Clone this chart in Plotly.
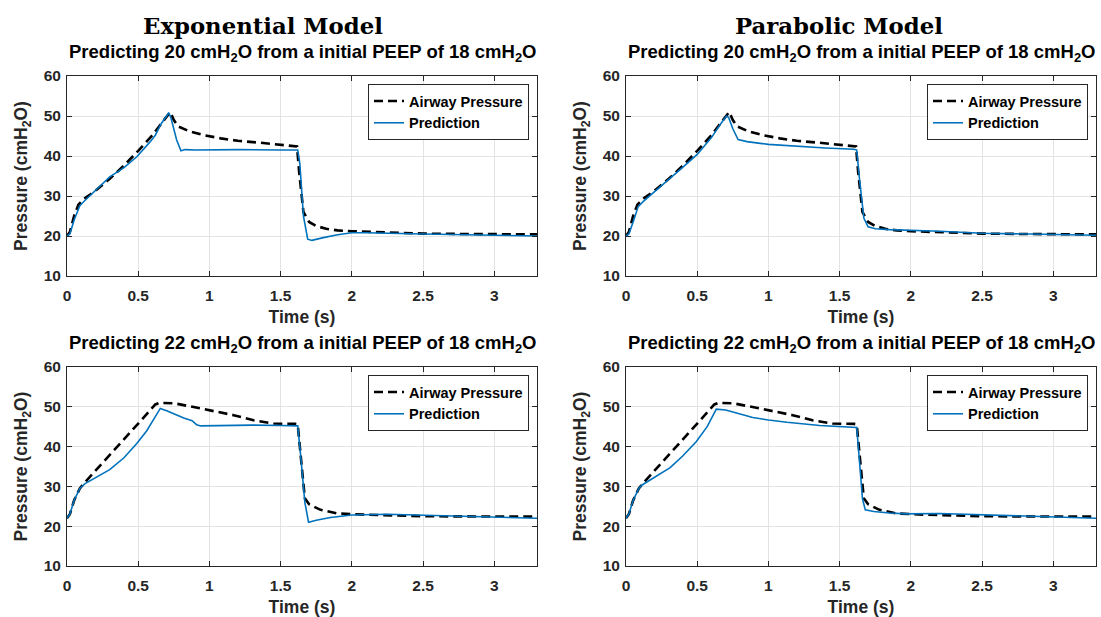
import plotly.graph_objects as go

# ---- Time axis / pressure values (cmH2O) ----
# Measured airway pressure, target 20 cmH2O (top row)
t_ap20 = [0, 0.02, 0.05, 0.08, 0.12, 0.2, 0.3, 0.4, 0.5, 0.6, 0.66, 0.7, 0.725, 0.75, 0.78,
          0.85, 0.95, 1.08, 1.2, 1.36, 1.5, 1.6, 1.615, 1.63, 1.66, 1.7, 1.75, 1.82, 1.9, 2.0,
          2.2, 2.5, 2.8, 3.3]
p_ap20 = [20, 21, 25, 27.8, 29.3, 31.3, 34.3, 37.6, 41.3, 45.2, 48.0, 49.8, 51.0, 49.0, 47.4,
          46.3, 45.3, 44.4, 43.8, 43.3, 42.9, 42.6, 42.4, 36, 26, 23.5, 22.5, 21.8, 21.4, 21.2,
          20.9, 20.6, 20.5, 20.4]

# Exponential model prediction, target 20
t_exp20 = [0, 0.02, 0.05, 0.09, 0.12, 0.2, 0.3, 0.4, 0.49, 0.58, 0.62, 0.66, 0.7, 0.715, 0.73,
           0.77, 0.8, 0.83, 0.9, 1.2, 1.5, 1.62, 1.635, 1.66, 1.69, 1.72, 1.8, 1.9, 2.0, 2.1,
           2.5, 3.0, 3.3]
p_exp20 = [20, 20.5, 24, 27.6, 28.7, 31.3, 34.8, 37.1, 39.8, 43.4, 45.2, 48.0, 50.2, 50.8, 49.5,
           44, 41.3, 41.6, 41.5, 41.6, 41.5, 41.5, 38, 25, 19.2, 18.9, 19.6, 20.3, 20.8, 20.8,
           20.5, 20.1, 20.0]

# Parabolic model prediction, target 20
t_par20 = [0, 0.02, 0.05, 0.085, 0.12, 0.2, 0.3, 0.4, 0.5, 0.6, 0.66, 0.705, 0.72, 0.75, 0.787,
           0.85, 1.0, 1.2, 1.4, 1.6, 1.62, 1.64, 1.67, 1.7, 1.75, 1.85, 2.0, 2.2, 2.5, 2.8, 3.3]
p_par20 = [20, 20.5, 23.5, 27.3, 28.6, 31.0, 34.2, 37.2, 40.4, 44.6, 47.8, 50.0, 49.7, 46.8, 44.1,
           43.6, 42.9, 42.4, 42.0, 41.7, 41.5, 34, 24.5, 22.3, 21.8, 21.6, 21.5, 21.2, 20.7,
           20.5, 20.2]

# Measured airway pressure, target 22 cmH2O (bottom row)
t_ap22 = [0, 0.02, 0.05, 0.09, 0.12, 0.2, 0.3, 0.4, 0.5, 0.58, 0.62, 0.65, 0.75, 0.88, 1.0,
          1.17, 1.31, 1.45, 1.6, 1.62, 1.64, 1.67, 1.7, 1.78, 1.9, 2.1, 2.5, 3.0, 3.3]
p_ap22 = [22, 23, 26.5, 29.5, 30.8, 33.9, 37.9, 41.8, 45.8, 49.0, 50.6, 51.0, 50.9, 50.0, 49.2,
          47.9, 46.6, 45.8, 45.7, 45.6, 38, 27, 25.5, 24.1, 23.2, 22.9, 22.5, 22.4, 22.4]

# Exponential model prediction, target 22
t_exp22 = [0, 0.02, 0.05, 0.09, 0.127, 0.2, 0.3, 0.4, 0.49, 0.56, 0.62, 0.655, 0.7, 0.75, 0.82,
           0.878, 0.91, 0.94, 1.1, 1.3, 1.5, 1.62, 1.64, 1.67, 1.696, 1.75, 1.85, 2.0, 2.25,
           2.6, 3.0, 3.3]
p_exp22 = [22, 23, 26.5, 29.5, 30.7, 32.1, 34.2, 37.2, 40.8, 44.0, 47.5, 49.6, 49.0, 48.2, 47.2,
           46.5, 45.5, 45.2, 45.3, 45.4, 45.3, 45.2, 38, 26, 21.0, 21.5, 22.2, 22.8, 23.0,
           22.7, 22.3, 22.0]

# Parabolic model prediction, target 22
t_par22 = [0, 0.02, 0.05, 0.09, 0.11, 0.2, 0.31, 0.4, 0.494, 0.57, 0.634, 0.7, 0.8, 0.89, 1.0,
           1.13, 1.36, 1.62, 1.64, 1.66, 1.68, 1.74, 1.85, 1.97, 2.2, 2.56, 3.0, 3.3]
p_par22 = [22, 23, 26.5, 29.5, 30.3, 32.3, 34.7, 37.7, 41.3, 45.0, 49.4, 49.2, 48.3, 47.3, 46.7,
           46.1, 45.3, 44.8, 36, 27, 24.1, 23.7, 23.3, 23.1, 23.2, 22.8, 22.4, 22.0]

x_ticks = [0, 0.5, 1, 1.5, 2, 2.5, 3]
y_ticks = [10, 20, 30, 40, 50, 60]

panel_titles = [
    "Predicting 20 cmH<sub>2</sub>O from a initial PEEP of 18 cmH<sub>2</sub>O",
    "Predicting 20 cmH<sub>2</sub>O from a initial PEEP of 18 cmH<sub>2</sub>O",
    "Predicting 22 cmH<sub>2</sub>O from a initial PEEP of 18 cmH<sub>2</sub>O",
    "Predicting 22 cmH<sub>2</sub>O from a initial PEEP of 18 cmH<sub>2</sub>O",
]
model_titles = ["Exponential Model", "Parabolic Model"]

W, H = 1101, 617
BLUE = "#0072BD"
AXC = "#262626"
SANS = "Liberation Sans"

# panel boxes in pixels: (left, right, top, bottom)
boxes = [(67, 537, 76, 276), (626, 1096, 76, 276),
         (67, 537, 367, 566), (626, 1096, 367, 566)]

panels = [
    (t_ap20, p_ap20, t_exp20, p_exp20),
    (t_ap20, p_ap20, t_par20, p_par20),
    (t_ap22, p_ap22, t_exp22, p_exp22),
    (t_ap22, p_ap22, t_par22, p_par22),
]

fig = go.Figure()
layout = dict(
    width=W, height=H, margin=dict(l=0, r=0, t=0, b=0, autoexpand=False),
    paper_bgcolor="white", plot_bgcolor="white",
    font=dict(family=SANS, size=15, color=AXC, weight="bold"),
    annotations=[],
)

for i, ((ta, pa, tp, pp), (l, r, t, b)) in enumerate(zip(panels, boxes)):
    k = "" if i == 0 else str(i + 1)
    xa, ya = "x" + k, "y" + k
    lg = "legend" + k
    fig.add_trace(go.Scatter(x=ta, y=pa, mode="lines", name="Airway Pressure",
                             line=dict(color="black", width=2.6, dash="9px,5px"),
                             xaxis=xa, yaxis=ya, legend=lg))
    fig.add_trace(go.Scatter(x=tp, y=pp, mode="lines", name="Prediction",
                             line=dict(color=BLUE, width=1.6),
                             xaxis=xa, yaxis=ya, legend=lg))
    axis_common = dict(showline=True, mirror="ticks", linecolor=AXC, linewidth=1,
                       ticks="inside", ticklen=5, tickcolor=AXC, automargin=False,
                       showgrid=True, gridcolor="#e3e3e3", gridwidth=1,
                       zeroline=False, tickfont=dict(size=15.5, color=AXC, weight="bold"))
    layout["xaxis" + k] = dict(axis_common, domain=[l / W, r / W], range=[0, 3.3],
                               tickvals=x_ticks, anchor=ya, ticklabelstandoff=5,
                               title=dict(text="Time (s)", standoff=8,
                                          font=dict(size=17.5, color=AXC, weight="bold")))
    layout["yaxis" + k] = dict(axis_common, domain=[1 - b / H, 1 - t / H], range=[10, 60],
                               tickvals=y_ticks, anchor=xa, ticklabelstandoff=2,
                               title=dict(text="Pressure (cmH<sub>2</sub>O)", standoff=11,
                                          font=dict(size=17.5, color=AXC, weight="bold")))
    layout[lg] = dict(x=(r - 8) / W, y=1 - (t + 8) / H, xanchor="right", yanchor="top",
                      bgcolor="white", bordercolor="#262626", borderwidth=1,
                      font=dict(size=14.5, color="black", weight="bold"),
                      itemwidth=30, tracegroupgap=0)
    layout["annotations"].append(dict(
        text=panel_titles[i], x=(l + r) / 2 / W, y=1 - (t - 23) / H,
        xref="paper", yref="paper", xanchor="center", yanchor="middle", showarrow=False,
        font=dict(size=18.5, color="black", weight="bold", family=SANS)))

for j, name in enumerate(model_titles):
    cx = [263, 839][j]
    layout["annotations"].append(dict(
        text=name, x=cx / W, y=1 - 26 / H, xref="paper", yref="paper",
        xanchor="center", yanchor="middle", showarrow=False,
        font=dict(size=22.8, color="black", weight="bold", family="DejaVu Serif")))

fig.update_layout(**layout)
fig.write_html("out.html")
